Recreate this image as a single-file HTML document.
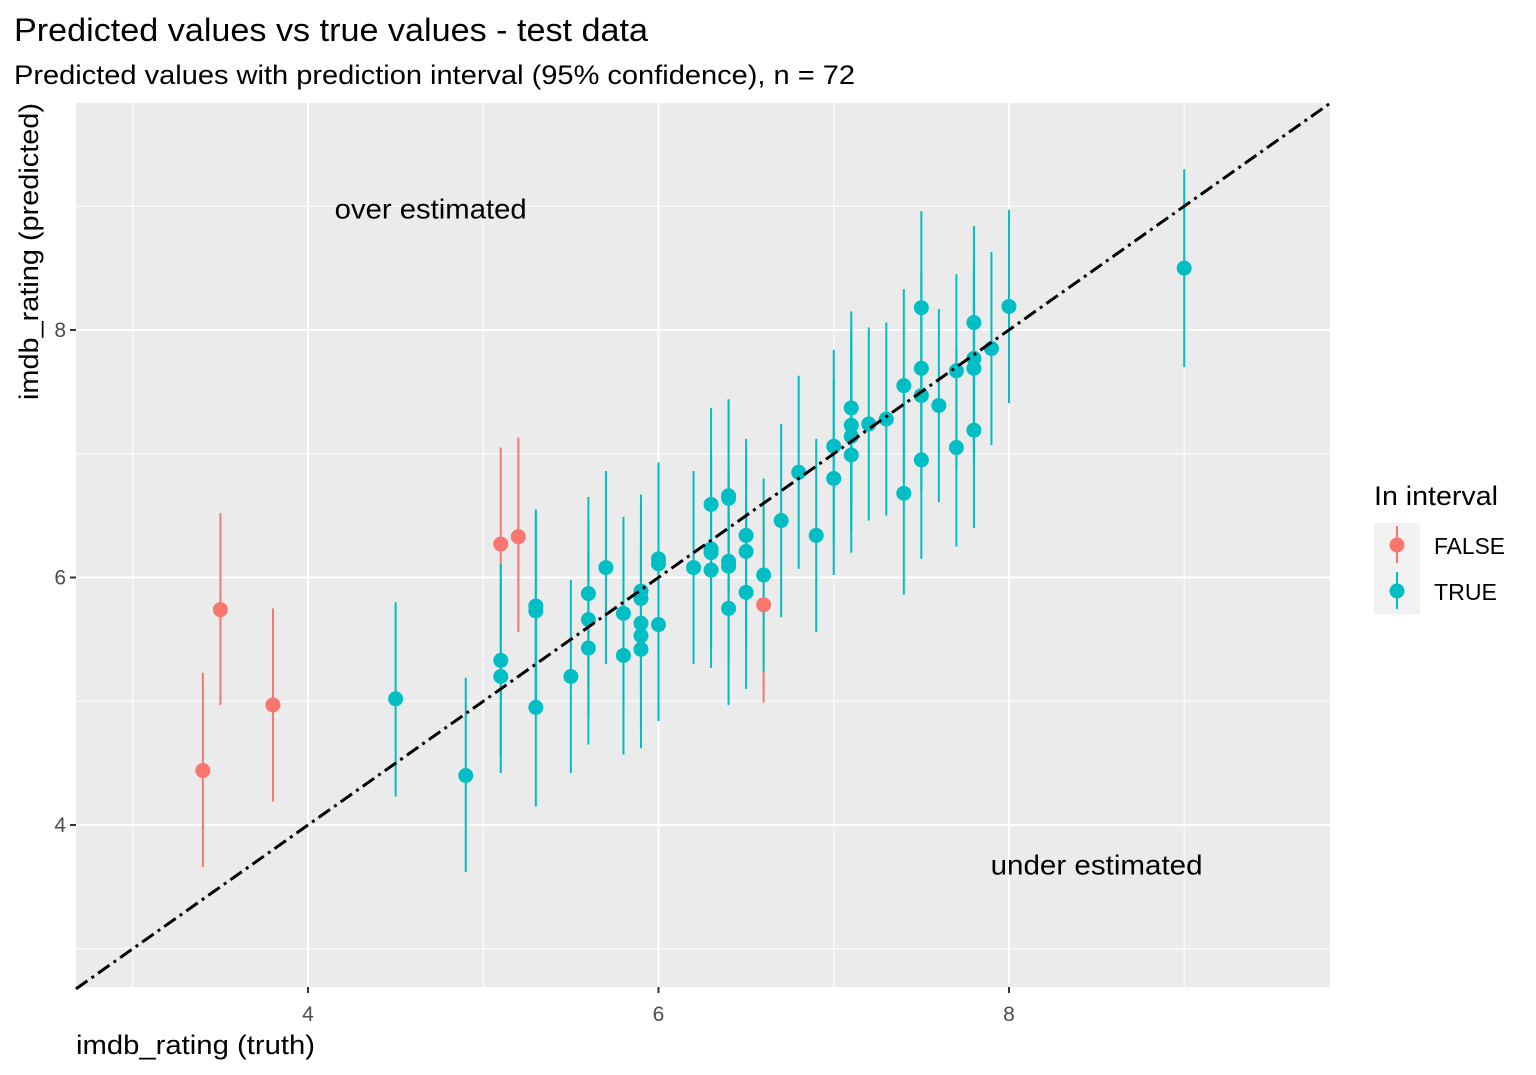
<!DOCTYPE html>
<html><head><meta charset="utf-8"><style>
body{margin:0;background:#fff;}
svg{display:block;font-family:"Liberation Sans",Arial,sans-serif;}
</style></head><body>
<svg id="chart" width="1536" height="1075">
<text x="14" y="41" font-size="32" textLength="634" lengthAdjust="spacingAndGlyphs" fill="#000">Predicted values vs true values - test data</text>
<text x="14" y="84" font-size="27" textLength="841" lengthAdjust="spacingAndGlyphs" fill="#000">Predicted values with prediction interval (95% confidence), n = 72</text>
<rect x="76" y="103" width="1254" height="884" fill="#ebebeb"/>
<g id="grid"></g>
<g id="marks"></g>
<g id="axes"></g>
<text x="76" y="1054" font-size="27" textLength="239" lengthAdjust="spacingAndGlyphs" fill="#000">imdb_rating (truth)</text>
<text transform="translate(38,400) rotate(-90)" font-size="27" textLength="297" lengthAdjust="spacingAndGlyphs" fill="#000">imdb_rating (predicted)</text>
<g>
<text x="1374" y="505" font-size="27" textLength="124" lengthAdjust="spacingAndGlyphs" fill="#000">In interval</text>
<g>
<rect x="1374" y="523" width="46" height="46" fill="#f2f2f2"/>
<line x1="1397" y1="526" x2="1397" y2="563" stroke="#F8766D" stroke-width="2"/>
<circle cx="1397" cy="545" r="7.5" fill="#F8766D"/>
<text x="1434" y="554" font-size="23" textLength="71" lengthAdjust="spacingAndGlyphs" fill="#000">FALSE</text></g>
<g>
<rect x="1374" y="569" width="46" height="45" fill="#f2f2f2"/>
<line x1="1397" y1="572" x2="1397" y2="609" stroke="#00BFC4" stroke-width="2"/>
<circle cx="1397" cy="591" r="7.5" fill="#00BFC4"/>
<text x="1434" y="600" font-size="23" textLength="63" lengthAdjust="spacingAndGlyphs" fill="#000">TRUE</text></g>
</g>
</svg>
<script>
const truth=[3.4,3.5,3.8,5.1,5.2,6.6,4.5,4.9,5.1,5.1,5.3,5.3,5.3,5.5,5.6,5.6,5.6,5.7,5.8,5.8,5.9,5.9,5.9,5.9,5.9,6.0,6.0,6.0,6.2,6.3,6.3,6.3,6.3,6.4,6.4,6.4,6.4,6.4,6.5,6.5,6.5,6.6,6.7,6.8,6.9,7.0,7.0,7.1,7.1,7.1,7.1,7.2,7.3,7.4,7.4,7.5,7.5,7.5,7.5,7.6,7.7,7.7,7.8,7.8,7.8,7.8,7.9,8.0,9.0];
const pred=[4.44,5.74,4.97,6.27,6.33,5.78,5.02,4.40,5.33,5.20,5.77,5.73,4.95,5.20,5.87,5.66,5.43,6.08,5.71,5.37,5.89,5.83,5.63,5.53,5.42,6.15,6.11,5.62,6.08,6.59,6.23,6.20,6.06,6.66,6.64,6.13,6.09,5.75,6.34,6.21,5.88,6.02,6.46,6.85,6.34,7.06,6.80,7.37,7.23,7.14,6.99,7.24,7.28,7.55,6.68,8.18,7.69,7.47,6.95,7.39,7.67,7.05,8.06,7.77,7.69,7.19,7.85,8.19,8.50];
const lower=[3.66,4.97,4.19,5.49,5.56,4.99,4.23,3.62,4.55,4.42,4.99,4.95,4.15,4.42,5.09,4.88,4.65,5.30,4.93,4.57,5.11,5.05,4.85,4.75,4.62,5.37,5.33,4.84,5.30,5.81,5.45,5.42,5.27,5.88,5.86,5.35,5.31,4.97,5.56,5.43,5.10,5.24,5.68,6.07,5.56,6.28,6.02,6.59,6.45,6.36,6.20,6.46,6.50,6.77,5.86,7.40,6.91,6.69,6.15,6.61,6.89,6.25,7.28,6.99,6.91,6.40,7.07,7.41,7.70];
const upper=[5.23,6.52,5.75,7.05,7.13,6.57,5.80,5.19,6.11,5.98,6.55,6.51,5.75,5.98,6.65,6.44,6.21,6.86,6.49,6.17,6.67,6.61,6.41,6.31,6.22,6.93,6.89,6.42,6.86,7.37,7.01,6.98,6.86,7.44,7.42,6.91,6.87,6.55,7.12,6.99,6.68,6.80,7.24,7.63,7.12,7.84,7.60,8.15,8.01,7.92,7.80,8.02,8.06,8.33,7.50,8.96,8.47,8.25,7.75,8.17,8.45,7.85,8.84,8.55,8.47,7.99,8.63,8.97,9.30];
const inInterval=[false,false,false,false,false,false];
const xTicks=[4,6,8];
const yTicks=[4,6,8];
const xMinor=[3,5,7,9];
const yMinor=[3,5,7,9];
const X0=76,X1=1330,Y0=103,Y1=987;
const xmin=2.676,xmax=9.832,ymin=2.691,ymax=9.834;
const sx=v=>X0+(v-xmin)/(xmax-xmin)*(X1-X0);
const sy=v=>Y1-(v-ymin)/(ymax-ymin)*(Y1-Y0);
const NS="http://www.w3.org/2000/svg";
function mk(tag,attrs,parent){const e=document.createElementNS(NS,tag);for(const k in attrs)e.setAttribute(k,attrs[k]);parent.appendChild(e);return e;}
const grid=document.getElementById('grid'),marks=document.getElementById('marks'),axes=document.getElementById('axes');
xMinor.forEach(v=>{const l=mk('line',{x1:sx(v),x2:sx(v),y1:Y0,y2:Y1,stroke:'#fff','stroke-width':1},grid);

});
yMinor.forEach(v=>{const l=mk('line',{x1:X0,x2:X1,y1:sy(v),y2:sy(v),stroke:'#fff','stroke-width':1},grid);

});
xTicks.forEach(v=>{const l=mk('line',{x1:sx(v),x2:sx(v),y1:Y0,y2:Y1,stroke:'#fff','stroke-width':2},grid);


const t=mk('line',{x1:sx(v),x2:sx(v),y1:Y1,y2:Y1+6,stroke:'#333','stroke-width':2},axes);


const tx=mk('text',{x:sx(v),y:1021,'font-size':21,fill:'#4d4d4d','text-anchor':'middle'},axes);tx.textContent=v;

});
yTicks.forEach(v=>{const l=mk('line',{x1:X0,x2:X1,y1:sy(v),y2:sy(v),stroke:'#fff','stroke-width':2},grid);


const t=mk('line',{x1:X0-6,x2:X0,y1:sy(v),y2:sy(v),stroke:'#333','stroke-width':2},axes);


const tx=mk('text',{x:X0-10,y:sy(v)+7,'font-size':21,fill:'#4d4d4d','text-anchor':'end'},axes);tx.textContent=v;

});
truth.forEach((t,i)=>{const ok=inInterval[i]!==false;const c=ok?'#00BFC4':'#F8766D';
const l=mk('line',{x1:sx(t),x2:sx(t),y1:sy(lower[i]),y2:sy(upper[i]),stroke:c,'stroke-width':2},marks);

});
truth.forEach((t,i)=>{const ok=inInterval[i]!==false;const c=ok?'#00BFC4':'#F8766D';
const p=mk('circle',{cx:sx(t),cy:sy(pred[i]),r:7.5,fill:c},marks);

});
const d=mk('line',{x1:sx(xmin),y1:sy(xmin),x2:sx(ymax),y2:sy(ymax),stroke:'#000','stroke-width':3,'stroke-dasharray':'14 5 3 5'},marks);


const a1=mk('text',{x:sx(4.7),y:sy(8.98)+10,'font-size':28,textLength:192,lengthAdjust:'spacingAndGlyphs','text-anchor':'middle',fill:'#000'},marks);a1.textContent='over estimated';


const a2=mk('text',{x:sx(8.5),y:sy(3.68)+10,'font-size':28,textLength:212,lengthAdjust:'spacingAndGlyphs','text-anchor':'middle',fill:'#000'},marks);a2.textContent='under estimated';


</script>
</body></html>
